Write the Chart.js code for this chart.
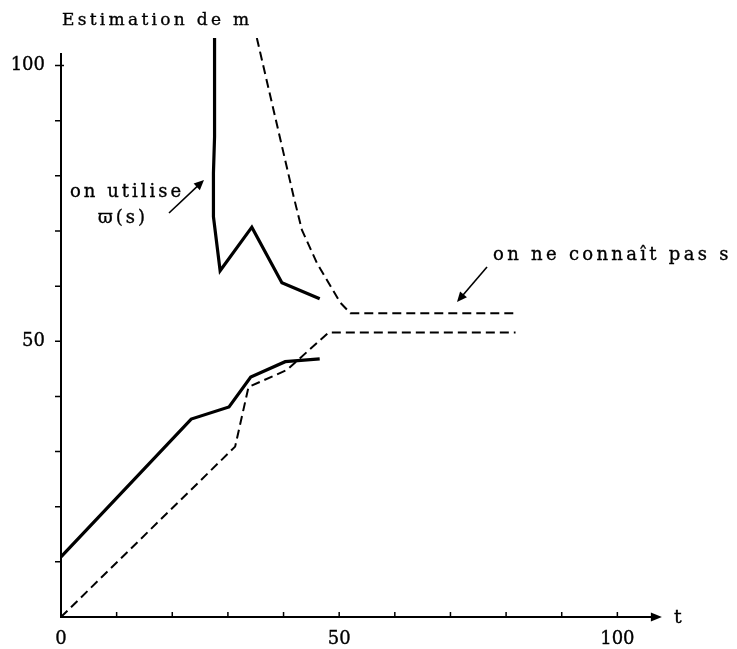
<!DOCTYPE html>
<html>
<head>
<meta charset="utf-8">
<script src="https://cdn.jsdelivr.net/npm/chart.js@4.4.1/dist/chart.umd.min.js"></script>
<style>
  body { margin: 0; background: #fff; }
  #zone { width: 737px; height: 649px; }
</style>
</head>
<body>
<div id="zone"><canvas id="estim" width="737" height="649"></canvas></div>
<script>
// estimation de m en fonction de t
// trait plein : on utilise ϖ(s) ; tirets : on ne connaît pas s
const tOmegaHaut = [27.6, 27.6, 27.4, 27.4, 28.6, 34.3, 39.7, 46.5];
const mOmegaHaut = [105, 87.1, 80.5, 72.6, 62.8, 70.7, 60.6, 57.7];
const tOmegaBas = [0, 23.4, 30.2, 34.1, 40.3, 46.5];
const mOmegaBas = [10.9, 35.9, 38.1, 43.5, 46.3, 46.8];

const tSansSHaut = [35.2, 41.8, 43.3, 46.0, 50.2, 52.0, 81.4];
const mSansSHaut = [105, 76.3, 70.2, 64.2, 57.0, 55.1, 55.1];
const tSansSBas = [0, 31.3, 33.7, 40.6, 48.1, 81.7];
const mSansSBas = [0, 30.9, 41.7, 44.8, 51.6, 51.6];

const tGraduations = [10, 20, 30, 40, 50, 60, 70, 80, 90, 100];
const mGraduations = [10, 20, 30, 40, 50, 60, 70, 80, 90, 100];
const tEtiquettes = [0, 50, 100];
const mEtiquettes = [50, 100];

const SERIF = "'DejaVu Serif', serif";

function points(ts, ms) {
  return ts.map((t, i) => ({ x: t, y: ms[i] }));
}

function courbe(ts, ms, tirets) {
  return {
    data: points(ts, ms),
    borderColor: '#000',
    borderWidth: tirets ? 2 : 3.2,
    borderDash: tirets ? [9, 5] : [],
    borderJoinStyle: 'miter',
    pointRadius: 0,
    tension: 0,
    fill: false
  };
}

function fleche(ctx, x0, y0, x1, y1, long, demi) {
  const a = Math.atan2(y1 - y0, x1 - x0);
  ctx.beginPath();
  ctx.moveTo(x0, y0);
  ctx.lineTo(x1 - long * 0.6 * Math.cos(a), y1 - long * 0.6 * Math.sin(a));
  ctx.stroke();
  ctx.beginPath();
  ctx.moveTo(x1, y1);
  ctx.lineTo(x1 - long * Math.cos(a) + demi * Math.sin(a), y1 - long * Math.sin(a) - demi * Math.cos(a));
  ctx.lineTo(x1 - long * Math.cos(a) - demi * Math.sin(a), y1 - long * Math.sin(a) + demi * Math.cos(a));
  ctx.closePath();
  ctx.fill();
}

// texte un peu espacé et épaissi, façon machine à écrire
function texte(ctx, s, x, y, taille, espace) {
  ctx.font = taille + 'px ' + SERIF;
  ctx.letterSpacing = espace + 'px';
  ctx.textAlign = 'left';
  ctx.textBaseline = 'alphabetic';
  ctx.lineWidth = 0.35;
  ctx.fillText(s, x, y);
  ctx.strokeText(s, x, y);
  ctx.letterSpacing = '0px';
}

// axes avec flèche, graduations et annotations
const axes = {
  id: 'axes',
  afterDraw(chart) {
    const { ctx, scales: { x, y } } = chart;
    const x0 = x.getPixelForValue(0), y0 = y.getPixelForValue(0);
    ctx.save();
    ctx.strokeStyle = '#000';
    ctx.fillStyle = '#000';
    ctx.lineWidth = 2;

    const xFin = x.getPixelForValue(108);
    ctx.beginPath();
    ctx.moveTo(x0, y0);
    ctx.lineTo(xFin - 6, y0);
    ctx.moveTo(x0, y0 + 1);
    ctx.lineTo(x0, y.getPixelForValue(102.3));
    ctx.stroke();
    ctx.beginPath();
    ctx.moveTo(xFin, y0);
    ctx.lineTo(xFin - 11, y0 - 4.5);
    ctx.lineTo(xFin - 11, y0 + 4.5);
    ctx.closePath();
    ctx.fill();

    ctx.lineWidth = 1.5;
    ctx.beginPath();
    tGraduations.forEach(t => {
      const px = x.getPixelForValue(t);
      ctx.moveTo(px, y0);
      ctx.lineTo(px, y0 - 5);
    });
    mGraduations.forEach(m => {
      const py = y.getPixelForValue(m);
      ctx.moveTo(x0 - 6, py);
      ctx.lineTo(x0 + (m === 100 ? 3 : 0), py);
    });
    ctx.stroke();

    texte(ctx, 't', x.getPixelForValue(110.2), y0 + 6, 19, 0);
    texte(ctx, 'Estimation de m', 62, 25, 17, 3.3);

    texte(ctx, 'on utilise', 70, 197, 18, 3);
    texte(ctx, 'ϖ(s)', 98, 223, 18, 3);
    ctx.lineWidth = 1.6;
    fleche(ctx, 169, 213, 204, 180, 10, 4.5);

    texte(ctx, 'on ne connaît pas s', 493, 260, 18, 3.3);
    ctx.lineWidth = 1.6;
    fleche(ctx, 487, 267, 457, 302, 10, 4.5);
    ctx.restore();
  }
};

const tickOpts = {
  stepSize: 10,
  autoSkip: false,
  maxRotation: 0,
  color: '#000',
  textStrokeColor: '#000',
  textStrokeWidth: 0.35,
  font: { family: SERIF, size: 18 }
};

new Chart(document.getElementById('estim'), {
  type: 'line',
  data: {
    datasets: [
      courbe(tOmegaHaut, mOmegaHaut, false),
      courbe(tOmegaBas, mOmegaBas, false),
      courbe(tSansSHaut, mSansSHaut, true),
      courbe(tSansSBas, mSansSBas, true)
    ]
  },
  options: {
    responsive: false,
    animation: false,
    layout: { padding: { top: 38, right: 64, bottom: 0, left: 0 } },
    plugins: { legend: { display: false }, tooltip: { enabled: false } },
    scales: {
      x: {
        type: 'linear',
        min: 0,
        max: 110,
        border: { display: false },
        grid: { display: false, drawTicks: false },
        afterFit(s) { s.height = 32; },
        ticks: {
          ...tickOpts,
          padding: 12,
          callback: v => tEtiquettes.includes(v) ? String(v) : ''
        }
      },
      y: {
        type: 'linear',
        min: 0,
        max: 105,
        border: { display: false },
        grid: { display: false, drawTicks: false },
        afterFit(s) { s.width = 61; },
        ticks: {
          ...tickOpts,
          padding: 16,
          callback: v => mEtiquettes.includes(v) ? String(v) : ''
        }
      }
    }
  },
  plugins: [axes]
});
</script>
</body>
</html>
